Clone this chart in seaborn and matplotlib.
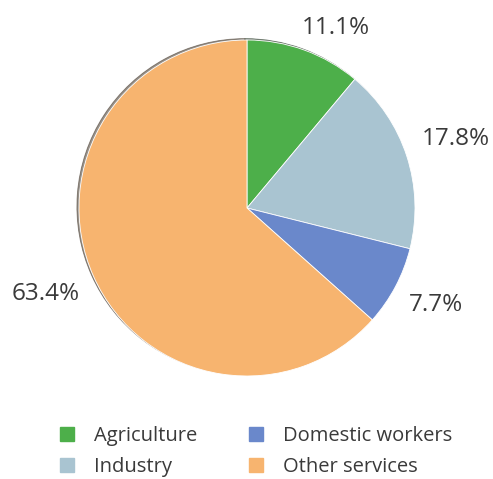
import matplotlib
matplotlib.use("Agg")
import numpy as np
import matplotlib.pyplot as plt
from matplotlib.lines import Line2D
import seaborn as sns

# Employment shares by sector
sectors = ["Agriculture", "Industry", "Domestic workers", "Other services"]
shares = [11.1, 17.8, 7.7, 63.4]
share_labels = ["11.1%", "17.8%", "7.7%", "63.4%"]
colors = ["#4daf4a", "#a9c4d1", "#6a88cb", "#f7b46f"]

sns.set_style("white")
plt.rcParams["font.family"] = ["Open Sans", "DejaVu Sans"]

fig = plt.figure(figsize=(4.93, 4.79), dpi=100)
cx, cy, r = 247, 208, 168
ax = fig.add_axes([(cx - r) / 493, 1 - (cy + r) / 479, 2 * r / 493, 2 * r / 479])

label_dist = 1.12
wedges, texts = ax.pie(
    shares,
    labels=share_labels,
    colors=colors,
    startangle=90,
    counterclock=False,
    labeldistance=label_dist,
    shadow={"ox": -0.009, "oy": 0.006, "shade": 0.8},
    wedgeprops={"linewidth": 0.6, "edgecolor": "white"},
    textprops={"fontsize": 17.5, "color": "#3a3a3a"},
)
# small angular nudges so the labels sit where the original has them
nudge = [3, 3.5, -3, 3]
for w, t, d in zip(wedges, texts, nudge):
    mid = np.deg2rad((w.theta1 + w.theta2) / 2 + d)
    t.set_position((label_dist * np.cos(mid), label_dist * np.sin(mid)))
ax.set_xlim(-1, 1)
ax.set_ylim(-1, 1)
ax.axis("off")

handles = [Line2D([0], [0], marker="s", linestyle="", markersize=9.5,
                  markerfacecolor=c, markeredgecolor=c) for c in colors]
fig.legend(handles, sectors, ncol=2, loc="upper left",
           bbox_to_anchor=(39 / 493, 1 - 408 / 479),
           frameon=False, fontsize=14.5, handletextpad=0.85,
           columnspacing=2.4, labelspacing=0.55, handlelength=1.0,
           labelcolor="#3a3a3a")

fig.savefig("out.png", dpi=100)
